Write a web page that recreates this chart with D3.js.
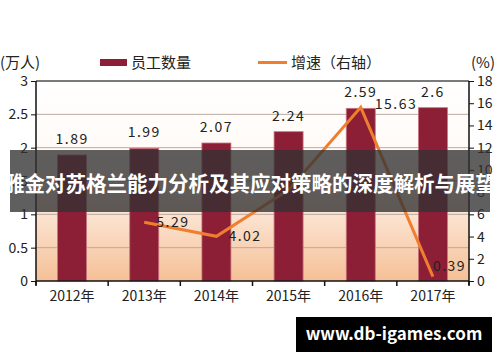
<!DOCTYPE html>
<html><head><meta charset="utf-8">
<script src="https://cdn.jsdelivr.net/npm/d3@7"></script>
<style>
body{margin:0;background:#fff;}
svg text{font-family:"Noto Sans CJK SC","Noto Sans",sans-serif;}
</style></head>
<body><div id="chart"></div>
<script>
var years = ["2012年","2013年","2014年","2015年","2016年","2017年"];
var staff = [1.89,1.99,2.07,2.24,2.59,2.6];
var growth = [null,5.29,4.02,8.2,15.63,0.39];
var growthLabels = [null,"5.29","4.02",null,"15.63","0.39"];
var leftTicks = [0,0.5,1,1.5,2,2.5,3];
var rightTicks = [0,2,4,6,8,10,12,14,16,18];

var W=500,H=362;
var m={l:36,r:31,t:81,b:81};
var svg=d3.select("#chart").append("svg").attr("width",W).attr("height",H);
var defs=svg.append("defs");
var grad=defs.append("linearGradient").attr("id","bg").attr("x1",0).attr("y1",0).attr("x2",0).attr("y2",1);
grad.append("stop").attr("offset","0%").attr("stop-color","#ffffff");
grad.append("stop").attr("offset","35%").attr("stop-color","#fffaf6");
grad.append("stop").attr("offset","70%").attr("stop-color","#fbe0cc");
grad.append("stop").attr("offset","100%").attr("stop-color","#f5c096");

var x=d3.scaleBand().domain(years).range([m.l,W-m.r]);
var yL=d3.scaleLinear().domain([0,3]).range([H-m.b,m.t]);
var yR=d3.scaleLinear().domain([0,18]).range([H-m.b,m.t]);

svg.append("rect").attr("x",m.l).attr("y",m.t).attr("width",W-m.l-m.r).attr("height",H-m.t-m.b).attr("fill","url(#bg)");

// gridlines
svg.append("g").selectAll("line").data(leftTicks.slice(1,-1)).enter().append("line")
  .attr("x1",m.l).attr("x2",W-m.r).attr("y1",d=>yL(d)).attr("y2",d=>yL(d))
  .attr("stroke","#b9aaa2").attr("stroke-width",1);
svg.append("line").attr("x1",m.l).attr("x2",W-m.r).attr("y1",yL(3)).attr("y2",yL(3)).attr("stroke","#7a7a7a").attr("stroke-width",2);

// bars
var bw=29;
svg.append("g").selectAll("rect").data(staff).enter().append("rect")
  .attr("x",(d,i)=>x(years[i])+x.bandwidth()/2-bw/2).attr("width",bw)
  .attr("y",d=>yL(d)).attr("height",d=>yL(0)-yL(d))
  .attr("fill","#8c1f36").attr("stroke","#c9757f").attr("stroke-width",0.8);
svg.append("g").selectAll("text").data(staff).enter().append("text")
  .attr("x",(d,i)=>x(years[i])+x.bandwidth()/2).attr("y",d=>yL(d)-11)
  .attr("text-anchor","middle").attr("font-size",14).attr("letter-spacing",1.5).attr("fill","#222")
  .text(d=>d);

// line
var pts=growth.map((v,i)=>({v:v,i:i})).filter(d=>d.v!=null);
var line=d3.line().x(d=>x(years[d.i])+x.bandwidth()/2).y(d=>yR(d.v));
svg.append("path").datum(pts).attr("d",line).attr("fill","none").attr("stroke","#ef7f2f").attr("stroke-width",3);
svg.append("g").selectAll("text").data(pts.filter(d=>growthLabels[d.i])).enter().append("text")
  .attr("x",d=>x(years[d.i])+x.bandwidth()/2+(d.i==4?14:d.i==5?0:12)).attr("y",d=>yR(d.v)+(d.i==4?2:d.i==5?-6:5))
  .attr("font-size",14).attr("letter-spacing",1.5).attr("fill","#222")
  .text(d=>growthLabels[d.i]);

// axes
var gl=svg.append("g").attr("transform","translate("+m.l+",0)")
  .call(d3.axisLeft(yL).tickValues(leftTicks).tickSize(5).tickFormat(d=>d));
var gr=svg.append("g").attr("transform","translate("+(W-m.r)+",0)")
  .call(d3.axisRight(yR).tickValues(rightTicks).tickSize(5));
var gx=svg.append("g").attr("transform","translate(0,"+(H-m.b)+")")
  .call(d3.axisBottom(x).tickSize(0).tickPadding(10));
[gl,gr,gx].forEach(g=>{
  g.select(".domain").attr("stroke","#111").attr("stroke-width",1.5);
  g.selectAll("line").attr("stroke","#111");
  g.selectAll("text").attr("font-size",14).attr("fill","#222").attr("font-family","\"Noto Sans CJK SC\",sans-serif");
});
gl.select(".domain").attr("d","M0,"+yL(3)+"V"+(yL(0)+4));
gr.select(".domain").attr("d","M0,"+yR(18)+"V"+(yR(0)+4));
gx.select(".domain").attr("d","M"+m.l+",0H"+(W-m.r));
gx.selectAll("text").attr("dy","0.71em");
// x boundary ticks
svg.append("g").selectAll("line").data(years.concat(["end"])).enter().append("line")
  .attr("x1",(d,i)=>m.l+i*x.step()).attr("x2",(d,i)=>m.l+i*x.step())
  .attr("y1",H-m.b).attr("y2",H-m.b+5).attr("stroke","#111").attr("stroke-width",1.5);

// units
svg.append("text").attr("x",0).attr("y",68).attr("font-size",15).attr("fill","#222").text("(万人)");
svg.append("text").attr("x",471).attr("y",68).attr("font-size",15).attr("fill","#222").text("(%)");

// legend
svg.append("rect").attr("x",100).attr("y",59).attr("width",27).attr("height",7).attr("fill","#8c1f36");
svg.append("text").attr("x",131).attr("y",68).attr("font-size",15).attr("fill","#222").text("员工数量");
svg.append("line").attr("x1",258).attr("x2",287).attr("y1",62.5).attr("y2",62.5).attr("stroke","#ef7f2f").attr("stroke-width",3);
svg.append("text").attr("x",291).attr("y",68).attr("font-size",15).attr("fill","#222").text("增速（右轴）");

// banner
svg.append("rect").attr("x",10).attr("y",150).attr("width",480).attr("height",62).attr("fill","rgba(50,50,50,0.78)");
svg.append("text").attr("x",4).attr("y",191).attr("font-size",21).attr("font-weight","bold").attr("fill","#fff")
  .attr("textLength",492).attr("lengthAdjust","spacingAndGlyphs")
  .text("雅金对苏格兰能力分析及其应对策略的深度解析与展望");

// watermark
svg.append("rect").attr("x",296).attr("y",317).attr("width",196).attr("height",35).attr("fill","#000");
svg.append("text").attr("x",394).attr("y",340).attr("text-anchor","middle").attr("font-size",17).attr("font-weight","bold").attr("fill","#fff")
  .attr("font-family","\"Open Sans\",sans-serif").text("www.db-igames.com");
</script></body></html>
